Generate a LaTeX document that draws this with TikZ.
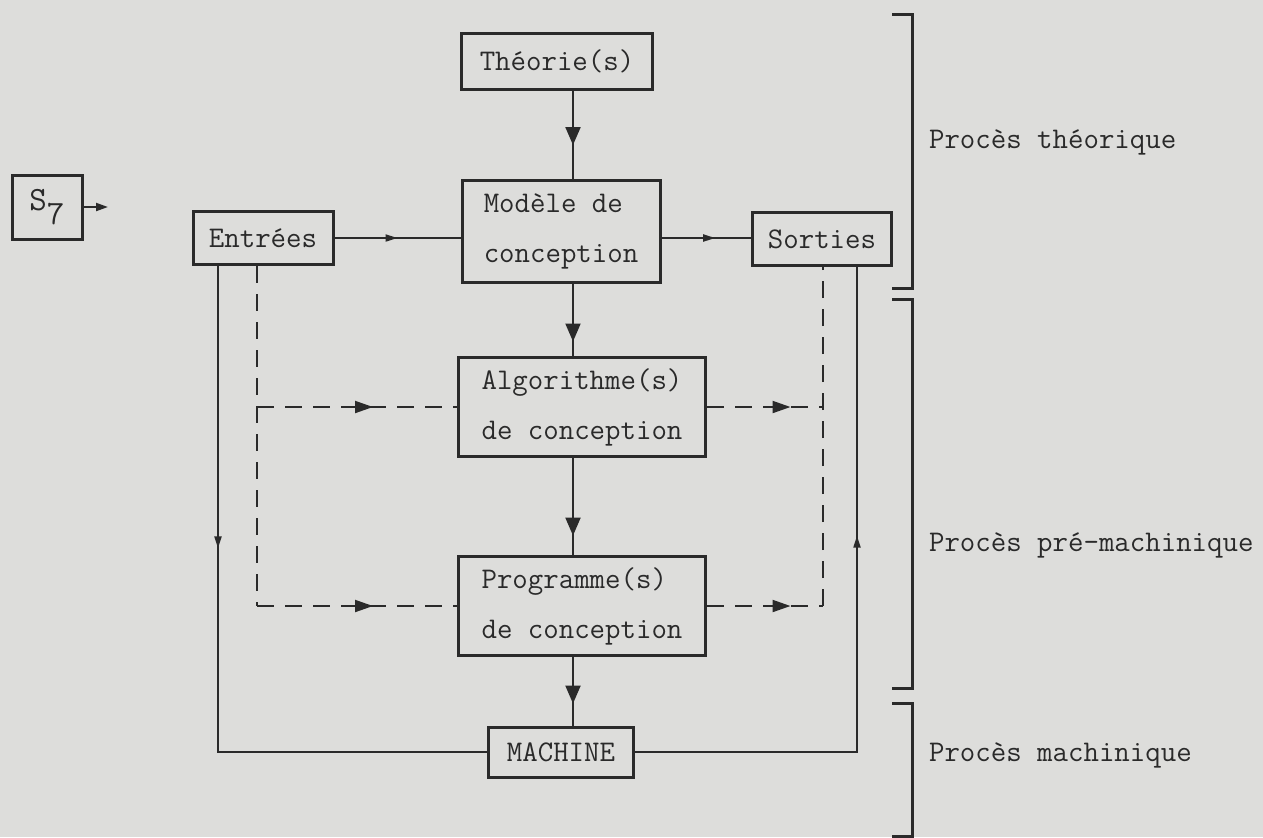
\documentclass[tikz,border=0pt]{standalone}
\usepackage{fontspec}
\usetikzlibrary{arrows.meta,decorations.markings}

\definecolor{paper}{RGB}{221,221,219}
\definecolor{ink}{RGB}{42,42,42}

\tikzset{
  box/.style={draw=ink, line width=1.5pt, inner sep=0pt, align=left, text=ink},
  link/.style={draw=ink, line width=1pt},
  dlink/.style={link, dash pattern=on 8.5pt off 5.5pt},
  brk/.style={draw=ink, line width=1.5pt},
  bigtip/.style={postaction={decorate}, decoration={markings,
      mark=at position #1 with {\arrow{Triangle[length=9pt,width=7.5pt]}}}},
  smalltip/.style={postaction={decorate}, decoration={markings,
      mark=at position #1 with {\arrow{Triangle[length=6pt,width=3.5pt]}}}},
  dashtip/.style={postaction={decorate}, decoration={markings,
      mark=at position #1 with {\arrow{Triangle[length=9pt,width=6pt]}}}},
}

\begin{document}
\begin{tikzpicture}[x=0.5pt, y=-0.5pt, font=\fontsize{15}{25}\selectfont\ttfamily]
  % paper, fixes the page size
  \fill[paper] (0,0) rectangle (1263,837);

  % the boxes
  \node[box, minimum width=35pt, minimum height=32pt] (s7) at (47,207) {\fontsize{17}{20}\selectfont S\raisebox{-7pt}{7}};
  \node[box, minimum width=95.5pt, minimum height=28pt] (theo) at (557,61) {Théorie(s)};
  \node[box, minimum width=99pt, minimum height=51pt] (modele) at (561,231) {Modèle de\\conception};
  \node[box, minimum width=70pt, minimum height=26.5pt] (entrees) at (263,238) {Entrées};
  \node[box, minimum width=69.5pt, minimum height=26.5pt] (sorties) at (822,239) {Sorties};
  \node[box, minimum width=123.5pt, minimum height=49.5pt] (algo) at (582,407) {Algorithme(s)\\de conception};
  \node[box, minimum width=123.5pt, minimum height=49.5pt] (prog) at (582,606) {Programme(s)\\de conception};
  \node[box, minimum width=72.5pt, minimum height=25pt] (machine) at (561,752) {MACHINE};

  % guide positions of the vertical lines
  \coordinate (spine) at (573,0);
  \coordinate (inl) at (218,0);
  \coordinate (ind) at (257,0);
  \coordinate (outd) at (823,0);
  \coordinate (outl) at (857,0);
  \coordinate (s7out) at (108,207);

  % S7 arrow
  \draw[link, -{Triangle[length=6pt,width=4pt]}] (s7.east) -- (s7out);

  % main chain
  \draw[link, bigtip=0.62] (theo.south -| spine) -- (modele.north -| spine);
  \draw[link, bigtip=0.8] (modele.south -| spine) -- (algo.north -| spine);
  \draw[link, bigtip=0.8] (algo.south -| spine) -- (prog.north -| spine);
  \draw[link, bigtip=0.68] (prog.south -| spine) -- (machine.north -| spine);

  % inputs and outputs
  \draw[link, smalltip=0.5] (entrees.east) -- (entrees.east -| modele.west);
  \draw[link, smalltip=0.6] (modele.east |- entrees.east) -- (entrees.east -| sorties.west);
  \draw[link, smalltip=0.374] (entrees.south -| inl) -- (inl |- machine.west) -- (machine.west);
  \draw[link, smalltip=0.62] (machine.east) -- (machine.east -| outl) -- (sorties.south -| outl);

  % dashed feeds
  \draw[dlink] (entrees.south -| ind) -- (ind |- prog.west);
  \draw[dlink, dashtip=0.58] (ind |- algo.west) -- (algo.west);
  \draw[dlink, dashtip=0.58] (ind |- prog.west) -- (prog.west);
  \draw[dlink, dashtip=0.72] (algo.east) -- (algo.east -| outd);
  \draw[dlink, dashtip=0.72] (prog.east) -- (prog.east -| outd);
  \draw[dlink] (prog.east -| outd) -- (sorties.south -| outd);

  % brackets on the right
  \draw[brk] (892,14) -- (912,14) -- (912,288) -- (892,288);
  \draw[brk] (892,299) -- (912,299) -- (912,688) -- (892,688);
  \draw[brk] (892,703) -- (912,703) -- (912,836) -- (892,836);
  \node[anchor=west, text=ink] (lth) at (922,142) {Procès théorique};
  \node[anchor=west, text=ink] (lpre) at (922,545) {Procès pré-machinique};
  \node[anchor=west, text=ink] (lmac) at (922,755) {Procès machinique};
\end{tikzpicture}
\end{document}
